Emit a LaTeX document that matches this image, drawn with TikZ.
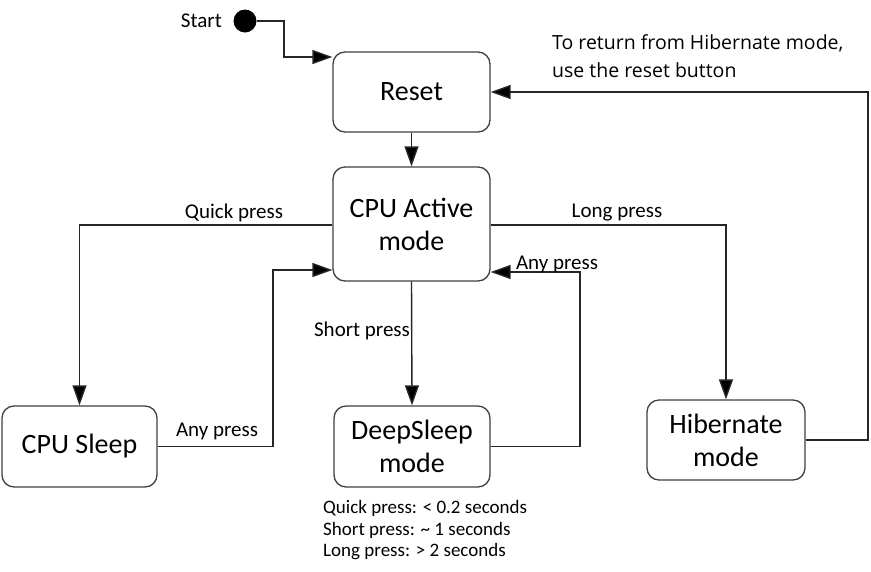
\documentclass[tikz,border=0pt]{standalone}
\usepackage{fontspec}
\setmainfont{Carlito}
\newfontfamily\notefont{Open Sans}
\usetikzlibrary{arrows.meta}
\begin{document}
\begin{tikzpicture}[x=1pt,y=-1pt,
  statebox/.style={draw=black!75,line width=1.3pt,rounded corners=12pt,fill=white,align=center,inner sep=0pt,font=\fontsize{28}{33}\selectfont},
  conn/.style={draw=black!85,line width=1.4pt,-{Triangle[length=20pt,width=14pt,fill=black]}},
  lbl/.style={inner sep=0pt,font=\fontsize{21}{24}\selectfont},
  note/.style={inner sep=0pt,anchor=west,font=\fontsize{19}{22}\selectfont}]
\useasboundingbox (0,0) rectangle (871,571);
\node[circle,fill=black,minimum size=23pt,inner sep=0pt] (start) at (245,21) {};
\node[lbl,anchor=east] (startlbl) at (222,21) {Start};
\node[statebox,minimum width=157pt,minimum height=80pt] (reset) at (411.5,92) {Reset};
\node[statebox,minimum width=157pt,minimum height=114pt] (active) at (411.5,224) {CPU Active\\mode};
\node[statebox,minimum width=155pt,minimum height=81pt] (sleep) at (79.5,446.5) {CPU Sleep};
\node[statebox,minimum width=156pt,minimum height=81pt] (deep) at (412,446.5) {DeepSleep\\mode};
\node[statebox,minimum width=158pt,minimum height=80pt] (hib) at (726,440) {Hibernate\\mode};
\coordinate (c1) at (284,21);
\coordinate (c2) at (868,440);
\coordinate (c3) at (273,270);
\coordinate (c4) at (580,272);
\draw[conn] (start.east) -- (c1) |- (reset.west |- 0,57);
\draw[conn] (reset.south) -- (active.north);
\draw[conn] (hib.east) -- (c2) |- (reset.east);
\draw[conn] (active.west |- 0,225) -| (sleep.north);
\draw[conn] (sleep.east) -| (c3) -- (active.west |- c3);
\draw[conn] (active.south) -- (deep.north);
\draw[conn] (deep.east) -| (c4) -- (active.east |- c4);
\draw[conn] (active.east |- 0,225) -| (hib.north);
\node[lbl] (lq) at (234,213) {Quick press};
\node[lbl] (ll) at (617,213) {Long press};
\node[lbl] (la1) at (217,431) {Any press};
\node[lbl] (ls) at (362,331) {Short press};
\node[lbl] (la2) at (557,264) {Any press};
\node[note] (n1) at (323,508) {Quick press: < 0.2 seconds};
\node[note] (n2) at (323,530) {Short press: \char"7E{} 1 seconds};
\node[note] (n3) at (323,552) {Long press: > 2 seconds};
\node[inner sep=0pt,anchor=base west,align=left,font=\notefont\fontsize{19.5}{28}\selectfont] (top) at (552,77) {To return from Hibernate mode,\\use the reset button};
\end{tikzpicture}
\end{document}
